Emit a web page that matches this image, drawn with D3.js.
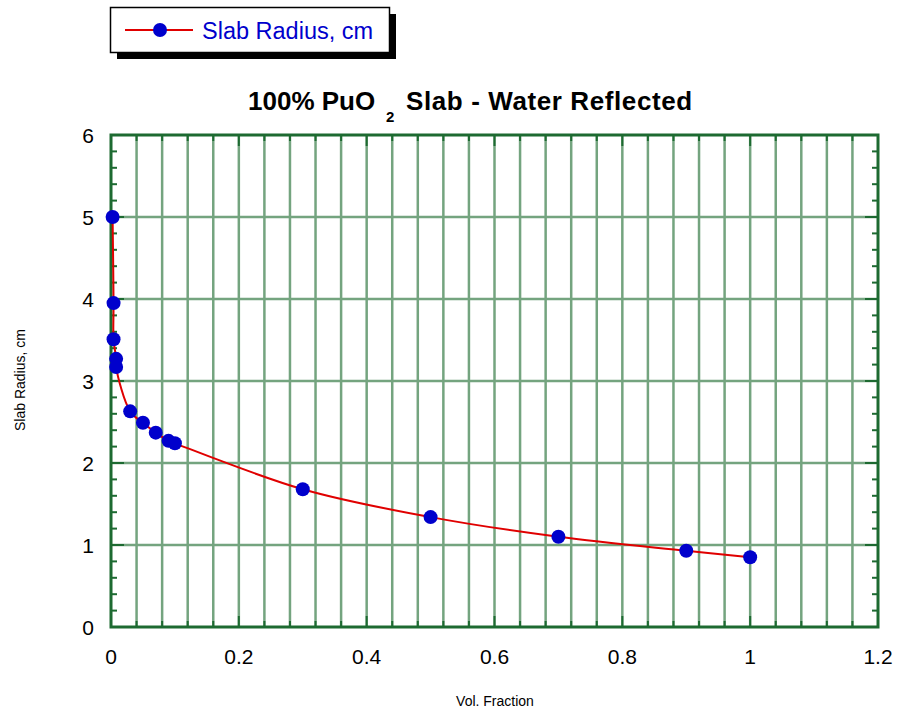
<!DOCTYPE html>
<html>
<head>
<meta charset="utf-8">
<script src="https://cdn.jsdelivr.net/npm/d3@7"></script>
<style>
  body { margin: 0; background: #fff; }
  svg text { font-family: "Liberation Sans", Arial, sans-serif; }
</style>
</head>
<body>
<div id="chart"></div>
<script>
// data
const volFraction = [0.0025, 0.004, 0.004, 0.008, 0.008, 0.03, 0.05, 0.07, 0.09, 0.1, 0.3, 0.5, 0.7, 0.9, 1.0];
const slabRadius = [5.0, 3.95, 3.51, 3.27, 3.17, 2.63, 2.49, 2.37, 2.27, 2.24, 1.68, 1.34, 1.10, 0.93, 0.85];
const xTicks = [0, 0.2, 0.4, 0.6, 0.8, 1, 1.2];
const yTicks = [0, 1, 2, 3, 4, 5, 6];
const seriesName = "Slab Radius, cm";

const data = volFraction.map((v, i) => ({ x: v, y: slabRadius[i] }));

const W = 898, H = 715;
const margin = { top: 135, right: 20, bottom: 88, left: 111 };
const width = W - margin.left - margin.right;
const height = H - margin.top - margin.bottom;

const svg = d3.select("#chart")
    .append("svg")
    .attr("width", W)
    .attr("height", H);

const g = svg.append("g")
    .attr("transform", `translate(${margin.left},${margin.top})`);

const xScale = d3.scaleLinear().domain([0, 1.2]).range([0, width]);
const yScale = d3.scaleLinear().domain([0, 6]).range([height, 0]);

const axisColor = "#1d6a31";
const gridColor = "#74a47f";

// grid lines: every 0.04 across, every 1 up
const xGrid = d3.range(1, 30).map(i => i * 0.04);
g.append("g").selectAll("line")
    .data(xGrid)
    .join("line")
    .attr("x1", d => xScale(d)).attr("x2", d => xScale(d))
    .attr("y1", 0).attr("y2", height)
    .attr("stroke", gridColor)
    .attr("stroke-width", 2.5);

g.append("g").selectAll("line")
    .data(yTicks.slice(1, -1))
    .join("line")
    .attr("x1", 0).attr("x2", width)
    .attr("y1", d => yScale(d)).attr("y2", d => yScale(d))
    .attr("stroke", gridColor)
    .attr("stroke-width", 2.5);

// frame with inward ticks on all four sides
const xMinor = d3.range(1, 30).map(i => i * 0.04);
const yMinor = d3.range(1, 30).map(i => i * 0.2);
const isMajorX = d => Math.abs(d / 0.2 - Math.round(d / 0.2)) < 1e-6;
const isMajorY = d => Math.abs(d - Math.round(d)) < 1e-6;

const ticks = g.append("g")
    .attr("stroke", axisColor)
    .attr("stroke-width", 2);

ticks.selectAll(".tb")
    .data(xMinor)
    .join("line")
    .attr("class", "tb")
    .attr("x1", d => xScale(d)).attr("x2", d => xScale(d))
    .attr("y1", height).attr("y2", d => height - (isMajorX(d) ? 11 : 6));

ticks.selectAll(".tt")
    .data(xMinor)
    .join("line")
    .attr("class", "tt")
    .attr("x1", d => xScale(d)).attr("x2", d => xScale(d))
    .attr("y1", 0).attr("y2", d => isMajorX(d) ? 11 : 6);

ticks.selectAll(".tl")
    .data(yMinor)
    .join("line")
    .attr("class", "tl")
    .attr("y1", d => yScale(d)).attr("y2", d => yScale(d))
    .attr("x1", 0).attr("x2", d => isMajorY(d) ? 13 : 6);

ticks.selectAll(".tr")
    .data(yMinor)
    .join("line")
    .attr("class", "tr")
    .attr("y1", d => yScale(d)).attr("y2", d => yScale(d))
    .attr("x1", width).attr("x2", d => width - (isMajorY(d) ? 13 : 6));

g.append("rect")
    .attr("width", width)
    .attr("height", height)
    .attr("fill", "none")
    .attr("stroke", axisColor)
    .attr("stroke-width", 3);

// tick labels
g.append("g").selectAll("text")
    .data(xTicks)
    .join("text")
    .attr("x", d => xScale(d))
    .attr("y", height + 37)
    .attr("text-anchor", "middle")
    .attr("font-size", 21)
    .text(d => d);

g.append("g").selectAll("text")
    .data(yTicks)
    .join("text")
    .attr("x", -17)
    .attr("y", d => yScale(d) + 8)
    .attr("text-anchor", "end")
    .attr("font-size", 21)
    .text(d => d);

// the series
const line = d3.line()
    .x(d => xScale(d.x))
    .y(d => yScale(d.y))
    .curve(d3.curveCatmullRom);

g.append("path")
    .datum(data)
    .attr("d", line)
    .attr("fill", "none")
    .attr("stroke", "#e00000")
    .attr("stroke-width", 2);

g.append("g").selectAll("circle")
    .data(data)
    .join("circle")
    .attr("cx", d => xScale(d.x))
    .attr("cy", d => yScale(d.y))
    .attr("r", 7)
    .attr("fill", "#0000cc");

// titles
const title = svg.append("g").attr("font-weight", "bold");
title.append("text")
    .attr("x", 248).attr("y", 110)
    .attr("font-size", 26)
    .text("100% PuO");
title.append("text")
    .attr("x", 386).attr("y", 122)
    .attr("font-size", 15)
    .text("2");
title.append("text")
    .attr("x", 406).attr("y", 110)
    .attr("font-size", 26)
    .attr("letter-spacing", 0.6)
    .text("Slab - Water Reflected");

svg.append("text")
    .attr("x", 495)
    .attr("y", 706)
    .attr("text-anchor", "middle")
    .attr("font-size", 14)
    .text("Vol. Fraction");

svg.append("text")
    .attr("transform", "translate(25,380) rotate(-90)")
    .attr("text-anchor", "middle")
    .attr("font-size", 14)
    .text("Slab Radius, cm");

// legend
const legend = svg.append("g");
legend.append("rect")
    .attr("x", 117).attr("y", 14)
    .attr("width", 279).attr("height", 45)
    .attr("fill", "#000");
legend.append("rect")
    .attr("x", 110.5).attr("y", 7.5)
    .attr("width", 279).attr("height", 45)
    .attr("fill", "#fff")
    .attr("stroke", "#000")
    .attr("stroke-width", 1.5);
legend.append("line")
    .attr("x1", 125).attr("x2", 193)
    .attr("y1", 30).attr("y2", 30)
    .attr("stroke", "#e00000")
    .attr("stroke-width", 2);
legend.append("circle")
    .attr("cx", 160).attr("cy", 30)
    .attr("r", 7)
    .attr("fill", "#0000cc");
legend.append("text")
    .attr("x", 202).attr("y", 39)
    .attr("font-size", 23.5)
    .attr("fill", "#0000cc")
    .text(seriesName);
</script>
</body>
</html>
